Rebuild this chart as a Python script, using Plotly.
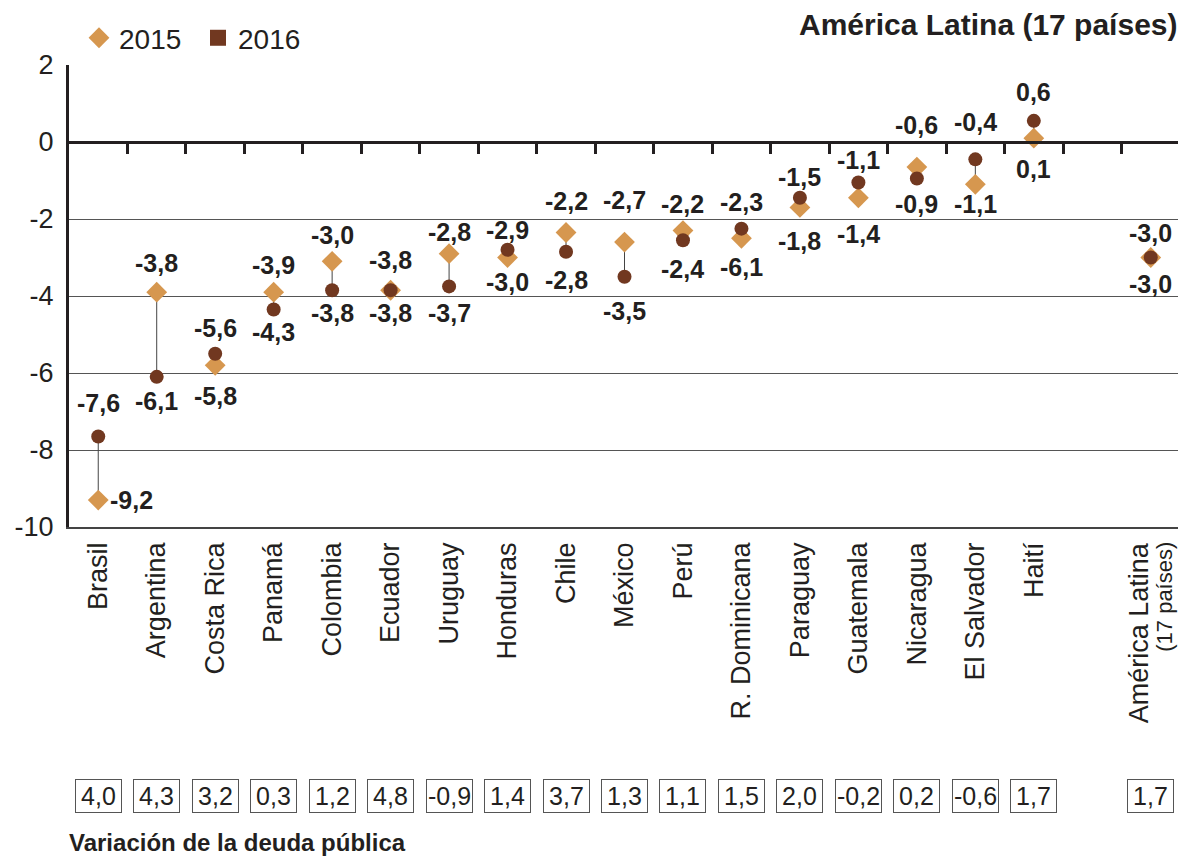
import plotly.graph_objects as go

# --- data
paises = ["Brasil", "Argentina", "Costa Rica", "Panamá", "Colombia", "Ecuador", "Uruguay",
          "Honduras", "Chile", "México", "Perú", "R. Dominicana", "Paraguay", "Guatemala",
          "Nicaragua", "El Salvador", "Haití", ""]
pos = list(range(17)) + [18]
total_label = ["América Latina", "(17 países)"]

v2015 = [-9.3, -3.9, -5.8, -3.9, -3.1, -3.85, -2.9, -3.0, -2.35, -2.6, -2.3, -2.5,
         -1.7, -1.45, -0.65, -1.1, 0.1, -3.0]
v2016 = [-7.65, -6.1, -5.5, -4.35, -3.85, -3.85, -3.75, -2.8, -2.85, -3.5, -2.55, -2.25,
         -1.45, -1.05, -0.95, -0.45, 0.55, -3.0]

lbl2015 = ["-9,2", "-3,8", "-5,8", "-3,9", "-3,0", "-3,8", "-2,8", "-3,0", "-2,2", "-2,7",
           "-2,2", "-6,1", "-1,8", "-1,4", "-0,6", "-1,1", "0,1", "-3,0"]
lbl2016 = ["-7,6", "-6,1", "-5,6", "-4,3", "-3,8", "-3,8", "-3,7", "-2,9", "-2,8", "-3,5",
           "-2,4", "-2,3", "-1,5", "-1,1", "-0,9", "-0,4", "0,6", "-3,0"]

variacion = ["4,0", "4,3", "3,2", "0,3", "1,2", "4,8", "-0,9", "1,4", "3,7", "1,3", "1,1",
             "1,5", "2,0", "-0,2", "0,2", "-0,6", "1,7", "1,7"]

yticks = [-10, -8, -6, -4, -2, 0, 2]
yticktext = ["-10", "-8", "-6", "-4", "-2", "0", "2"]

# label offsets in px (positive = below the marker)
off2015 = [0, -29, 31, -27, -26, -30, -22, 24, -31, -42, -27, 29, 34, 36, -42, 20, 31, -25]
off2016 = [-34, 24, -26, 23, 23, 23, 27, -20, 28, 34, 29, -27, -21, -22, 25, -37, -29, 26]

C15 = "#D6974F"
C16 = "#713820"
TXT = "#231F20"
FONT = "Liberation Sans"

# connectors
lx, ly = [], []
for x, a, b in zip(pos, v2015, v2016):
    lx += [x, x, None]
    ly += [a, b, None]

fig = go.Figure()
fig.add_trace(go.Scatter(x=lx, y=ly, mode="lines", line=dict(color="#444", width=1),
                         showlegend=False, hoverinfo="skip"))
fig.add_trace(go.Scatter(x=pos, y=v2015, mode="markers", name="2015",
                         marker=dict(symbol="diamond", size=16, color=C15)))
fig.add_trace(go.Scatter(x=pos, y=v2016, mode="markers", name="2016", showlegend=False,
                         marker=dict(symbol="circle", size=14, color=C16)))
fig.add_trace(go.Scatter(x=[None], y=[None], mode="markers", name="2016",
                         marker=dict(symbol="square", size=16, color=C16)))
# dummy trace for the zero axis with ticks
fig.add_trace(go.Scatter(x=[None], y=[None], xaxis="x2", showlegend=False))

lblfont = dict(family=FONT, size=25, color=TXT)
for i, x in enumerate(pos):
    if i == 0:
        fig.add_annotation(x=x, y=v2015[i], text="<b>" + lbl2015[i] + "</b>", showarrow=False,
                           xanchor="left", xshift=10, font=lblfont)
    else:
        fig.add_annotation(x=x, y=v2015[i], text="<b>" + lbl2015[i] + "</b>", showarrow=False,
                           yshift=-off2015[i], font=lblfont)
    fig.add_annotation(x=x, y=v2016[i], text="<b>" + lbl2016[i] + "</b>", showarrow=False,
                       yshift=-off2016[i], font=lblfont)

# two-line label for the regional total
fig.add_annotation(x=pos[-1], y=0, yref="paper", yanchor="top", yshift=-13, xshift=-12,
                   textangle=-90, text=total_label[0], showarrow=False,
                   font=dict(family=FONT, size=27, color=TXT))
fig.add_annotation(x=pos[-1], y=0, yref="paper", yanchor="top", yshift=-13, xshift=13,
                   textangle=-90, text=total_label[1], showarrow=False,
                   font=dict(family=FONT, size=22, color=TXT))

for x, t in zip(pos, variacion):
    fig.add_annotation(x=x, xref="x", y=-0.583, yref="paper", yanchor="middle", text=t,
                       showarrow=False, width=43, height=30, bordercolor="#555",
                       borderwidth=1, borderpad=1,
                       font=dict(family=FONT, size=25, color=TXT))

fig.add_annotation(x=0, xref="paper", xanchor="left", xshift=-2, y=-0.6825, yref="paper",
                   yanchor="middle", text="<b>Variación de la deuda pública</b>",
                   showarrow=False, font=dict(family=FONT, size=24, color=TXT))
fig.add_annotation(x=1, xref="paper", xanchor="right", y=1.087, yref="paper",
                   yanchor="middle", text="<b>América Latina (17 países)</b>",
                   showarrow=False, font=dict(family=FONT, size=30, color=TXT))

fig.update_layout(
    width=1178, height=850,
    margin=dict(l=61, r=6, t=56, b=331),
    plot_bgcolor="white", paper_bgcolor="white",
    font=dict(family=FONT, color=TXT),
    legend=dict(orientation="h", x=0.009, y=1.056, yanchor="middle", xanchor="left",
                entrywidth=74, font=dict(size=28, color=TXT), bgcolor="rgba(0,0,0,0)"),
    xaxis=dict(range=[-0.5, 18.5], tickvals=pos, ticktext=paises, tickangle=-90,
               tickfont=dict(size=27), showgrid=False, zeroline=False,
               showline=True, linecolor="#444", linewidth=1.5, ticks="",
               ticklabelstandoff=3),
    xaxis2=dict(range=[-0.5, 18.5], overlaying="x", anchor="free", position=10 / 12,
                side="bottom", showline=True, linecolor=TXT, linewidth=3,
                ticks="outside", ticklen=10, tickwidth=3, tickcolor=TXT,
                tickvals=[k + 0.5 for k in range(19)], showticklabels=False,
                showgrid=False, zeroline=False),
    yaxis=dict(range=[-10, 2], tickvals=yticks, ticktext=yticktext, tickfont=dict(size=27),
               showgrid=True, gridcolor="#555", gridwidth=1, zeroline=False,
               showline=True, linecolor=TXT, linewidth=3, ticks="",
               ticklabelstandoff=7),
)

fig.write_html("out.html")
